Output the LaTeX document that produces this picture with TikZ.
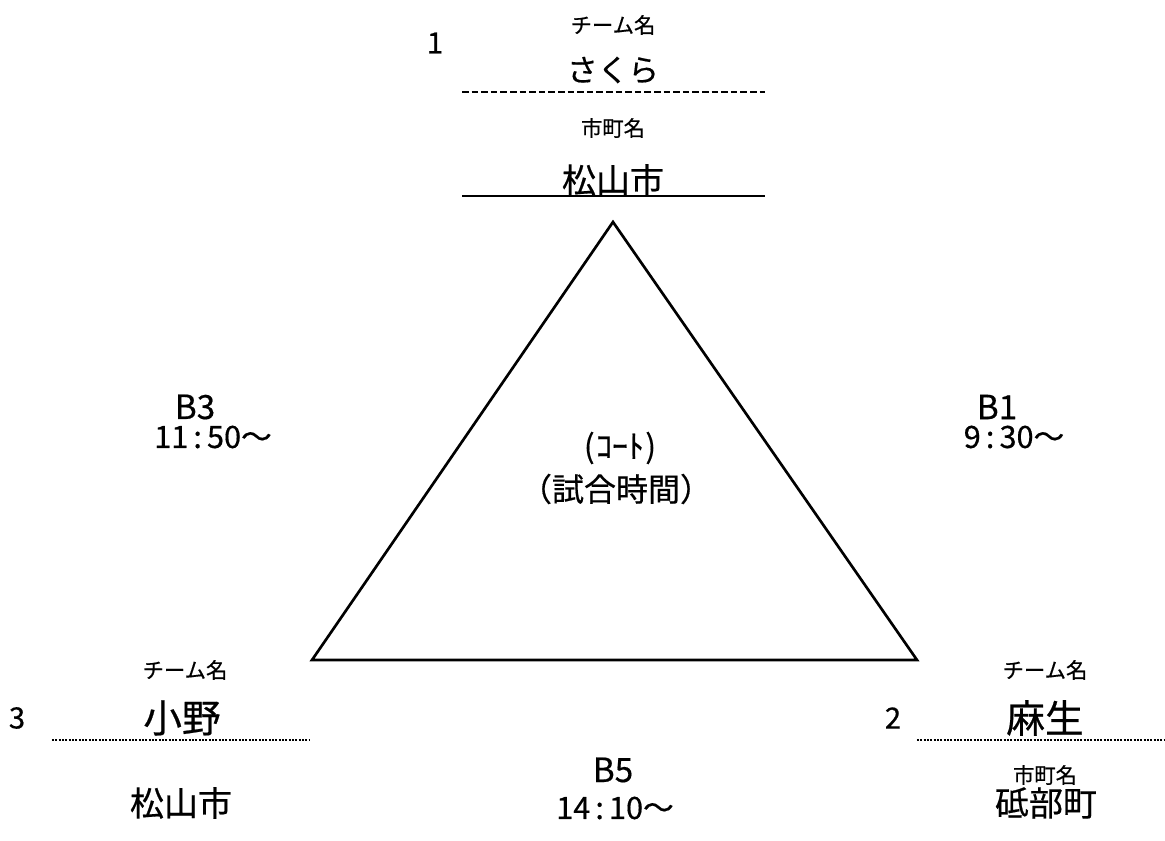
\documentclass[tikz,border=0pt]{standalone}
\usepackage{fontspec}
\setmainfont{Noto Sans CJK JP}[BoldFont={Noto Sans CJK JP}, BoldFeatures={FakeBold=0.5}]
\begin{document}
\begin{tikzpicture}[x=0.75pt,y=-0.75pt,
  small/.style={font=\fontsize{16}{18}\selectfont\bfseries, inner sep=0pt},
  kana/.style={font=\fontsize{23}{26}\selectfont\bfseries, inner sep=0pt},
  big/.style={font=\fontsize{29}{32}\selectfont\bfseries, inner sep=0pt},
  city/.style={font=\fontsize{25.5}{28}\selectfont\bfseries, inner sep=0pt},
  mid/.style={font=\fontsize{23}{26}\selectfont\bfseries, inner sep=0pt},
  blab/.style={font=\fontsize{25}{28}\selectfont\bfseries, inner sep=0pt},
  ctr/.style={font=\fontsize{24}{28}\selectfont\bfseries, inner sep=0pt},
  num/.style={font=\fontsize{22}{24}\selectfont\bfseries, inner sep=0pt},
  dashline/.style={line width=2pt, dash pattern=on 5pt off 2.2pt},
  dotline/.style={line width=2pt, dash pattern=on 1.5pt off 1pt},
  solidline/.style={line width=2.2pt}]
\useasboundingbox (0,0) rectangle (1165,841);
% triangle
\coordinate (apex) at (613,222);
\coordinate (bl) at (312,660);
\coordinate (br) at (917,660);
\draw[line width=2pt, line join=miter] (apex) -- (bl) -- (br) -- cycle;
% top team
\node[small] (t1lab) at (613,25) {チーム名};
\node[num] (t1num) at (435,43) {1};
\node[kana] (t1name) at (613,70) {さくら};
\coordinate (t1a) at (462,92);
\coordinate (t1b) at (765,92);
\draw[dashline] (t1a) -- (t1b);
\node[small] (t1clab) at (613,128) {市町名};
\node[city] (t1city) at (613,180) {松山市};
\coordinate (t1c) at (462,196);
\coordinate (t1d) at (765,196);
\draw[solidline] (t1c) -- (t1d);
% side labels
\node[blab] (b3) at (195,407) {B3};
\node[mid] (b3t) at (213,437) {11\,:\,50〜};
\node[blab] (b1) at (997,407) {B1};
\node[mid] (b1t) at (1014,437) {9\,:\,30〜};
% center
\node[ctr] (court) at (620,448) {(\kern1ptｺｰﾄ\kern1pt)};
\node[ctr] (time) at (616,489) {（試合時間）};
% bottom left team
\node[small] (t3lab) at (185,670) {チーム名};
\node[num] (t3num) at (17,718) {3};
\node[big] (t3name) at (182,718) {小野};
\coordinate (t3a) at (52,740);
\coordinate (t3b) at (310,740);
\draw[dotline] (t3a) -- (t3b);
\node[city] (t3city) at (181,803) {松山市};
% bottom
\node[blab] (b5) at (613,770) {B5};
\node[mid] (b5t) at (615,808) {14\,:\,10〜};
% bottom right team
\node[small] (t2lab) at (1045,670) {チーム名};
\node[num] (t2num) at (893,718) {2};
\node[big] (t2name) at (1045,718) {麻生};
\coordinate (t2a) at (917,740);
\coordinate (t2b) at (1165,740);
\draw[dotline] (t2a) -- (t2b);
\node[small] (t2clab) at (1045,775) {市町名};
\node[city] (t2city) at (1046,803) {砥部町};
\end{tikzpicture}
\end{document}
